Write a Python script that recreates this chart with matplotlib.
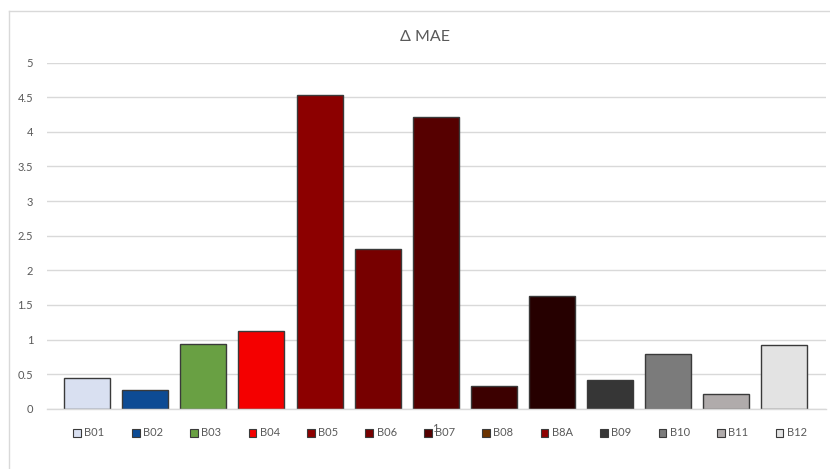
import matplotlib
matplotlib.use("Agg")
import matplotlib.pyplot as plt
from matplotlib.patches import Patch
from matplotlib.lines import Line2D

plt.rcParams['font.family'] = ['Lato', 'DejaVu Sans']

bands = ["B01", "B02", "B03", "B04", "B05", "B06", "B07",
         "B08", "B8A", "B09", "B10", "B11", "B12"]
delta_mae = [0.45, 0.27, 0.93, 1.13, 4.53, 2.31, 4.22,
             0.33, 1.63, 0.42, 0.79, 0.21, 0.92]
bar_colors = ["#d9e0f1", "#0d4b94", "#69a043", "#f40000", "#8c0000", "#770000", "#560000",
              "#3c0000", "#260000", "#363636", "#7b7b7b", "#b0abab", "#e3e3e3"]
legend_colors = ["#d9e0f1", "#0d4b94", "#69a043", "#f40000", "#8c0000", "#770000", "#560000",
                 "#6b3300", "#8c0000", "#363636", "#7b7b7b", "#b0abab", "#e3e3e3"]
category = "1"
y_ticks = [0, 0.5, 1, 1.5, 2, 2.5, 3, 3.5, 4, 4.5, 5]

W, H = 830, 469
fig = plt.figure(figsize=(W / 100, H / 100), dpi=100)

# chart frame (top and left edges visible)
fig.add_artist(Line2D([9 / W, 1], [1 - 11 / H, 1 - 11 / H], color="#d9d9d9", lw=1))
fig.add_artist(Line2D([9 / W, 9 / W], [0, 1 - 11 / H], color="#d9d9d9", lw=1))

ax = fig.add_axes([47 / W, 1 - 408.7 / H, (826 - 47) / W, (408.7 - 62.7) / H])
x = list(range(len(bands)))
ax.bar(x, delta_mae, width=0.79, color=bar_colors, edgecolor="#3a3a3a",
       linewidth=1.0, zorder=3)

ax.set_xlim(-0.69, 12.715)
ax.set_ylim(0, 5)
ax.set_yticks(y_ticks)
ax.set_yticklabels([f"{v:g}" for v in y_ticks])
ax.set_xticks([6])
ax.set_xticklabels([category])
ax.tick_params(axis="y", length=0, pad=10, labelsize=8, labelcolor="#595959")
ax.tick_params(axis="x", length=0, pad=10, labelsize=8, labelcolor="#595959")
ax.grid(axis="y", color="#d9d9d9", linewidth=1, zorder=0)
for s in ["top", "right", "left"]:
    ax.spines[s].set_visible(False)
ax.spines["bottom"].set_color("#d9d9d9")
ax.spines["bottom"].set_linewidth(1)
ax.spines["bottom"].set_zorder(4)

fig.text(425 / W, 1 - 37 / H, "Δ MAE", ha="center", va="center",
         fontsize=11.5, color="#595959")

handles = [Patch(facecolor=c, edgecolor="#3a3a3a", linewidth=0.8) for c in legend_colors]
fig.legend(handles, bands, loc="center", bbox_to_anchor=(440 / W, 1 - 433 / H),
           ncol=len(bands), frameon=False, fontsize=8, labelcolor="#595959",
           handlelength=0.7, handleheight=0.7, handletextpad=0.3,
           columnspacing=2.45, borderaxespad=0)

fig.savefig("out.png", dpi=100)
